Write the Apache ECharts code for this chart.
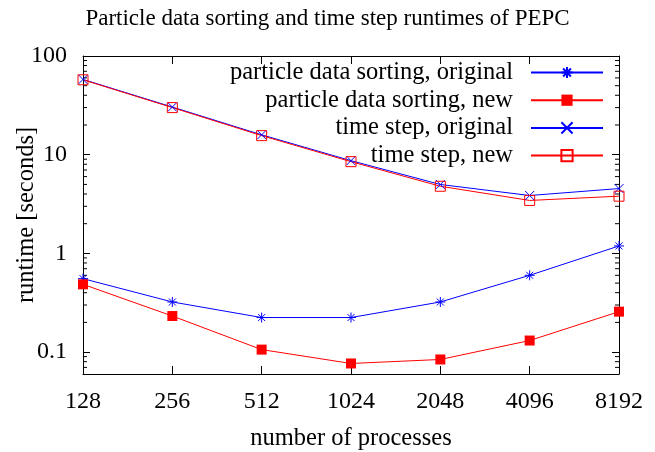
<!DOCTYPE html>
<html>
<head>
<meta charset="utf-8">
<script src="https://cdn.jsdelivr.net/npm/echarts@6/dist/echarts.min.js"></script>
<style>
  html, body { margin: 0; padding: 0; background: #fff; }
  #chart { width: 655px; height: 452px; }
</style>
</head>
<body>
<div id="chart"></div>
<script>
const procs = ['128', '256', '512', '1024', '2048', '4096', '8192']
const sortOrig = [0.555, 0.322, 0.224, 0.224, 0.322, 0.60, 1.19]
const sortNew = [0.486, 0.232, 0.106, 0.0767, 0.0842, 0.131, 0.257]
const stepOrig = [57.9, 30.4, 15.9, 8.7, 4.99, 3.86, 4.54]
const stepNew = [57.4, 30.0, 15.6, 8.5, 4.79, 3.44, 3.80]
const minorVals = [0.07, 0.08, 0.09, 0.2, 0.3, 0.4, 0.5, 0.6, 0.7, 0.8, 0.9,
  2, 3, 4, 5, 6, 7, 8, 9, 20, 30, 40, 50, 60, 70, 80, 90]

const FONT = 'Liberation Serif'
const BLUE = '#0000ff'
const RED = '#ff0000'

const asterisk = 'path://M5,0L5,10M0,5L10,5M1.5,1.5L8.5,8.5M1.5,8.5L8.5,1.5'
const cross = 'path://M0,0L10,10M0,10L10,0'
const square = 'path://M0,0L10,0L10,10L0,10Z'

const chart = echarts.init(document.getElementById('chart'))

const yAxisBase = {
  type: 'log',
  logBase: 10,
  min: 0.06,
  max: 100,
  splitNumber: 3,
  axisLine: { show: true, lineStyle: { color: '#000', width: 1 } },
  axisTick: { show: true, inside: true, length: 7, lineStyle: { color: '#000' } },
  splitLine: { show: false }
}

const option = {
  animation: false,
  title: {
    text: 'Particle data sorting and time step runtimes of PEPC',
    left: 'center',
    top: 2,
    textStyle: { fontFamily: FONT, fontSize: 23, fontWeight: 'normal', color: '#000' }
  },
  legend: {
    data: ['particle data sorting, original', 'particle data sorting, new',
      'time step, original', 'time step, new'],
    orient: 'vertical',
    align: 'right',
    right: 46,
    top: 55,
    itemWidth: 72,
    itemHeight: 14,
    itemGap: 2.7,
    textStyle: { fontFamily: FONT, fontSize: 24.5, color: '#000', padding: [0, 13, 0, 0], lineHeight: 24 }
  },
  grid: { left: 83, right: 36, top: 56, bottom: 78, outerBoundsMode: 'none' },
  xAxis: [
    {
      type: 'category',
      data: procs,
      boundaryGap: false,
      name: 'number of processes',
      nameLocation: 'middle',
      nameGap: 52,
      nameMoveOverlap: false,
      nameTextStyle: { fontFamily: FONT, fontSize: 24.5, color: '#000' },
      axisLine: { lineStyle: { color: '#000', width: 1 } },
      axisTick: { inside: true, length: 8, lineStyle: { color: '#000' } },
      axisLabel: { fontFamily: FONT, fontSize: 24, color: '#000', margin: 16 }
    },
    {
      type: 'category',
      data: procs,
      boundaryGap: false,
      position: 'top',
      axisLine: { lineStyle: { color: '#000', width: 1 } },
      axisTick: { inside: true, length: 8, lineStyle: { color: '#000' } },
      axisLabel: { show: false }
    }
  ],
  yAxis: [
    Object.assign({}, yAxisBase, {
      name: 'runtime [seconds]',
      nameLocation: 'middle',
      nameGap: 44,
      nameMoveOverlap: false,
      nameTextStyle: { fontFamily: FONT, fontSize: 24.5, color: '#000' },
      axisLabel: { fontFamily: FONT, fontSize: 24, color: '#000', margin: 16, showMinLabel: false }
    }),
    Object.assign({}, yAxisBase, {
      position: 'right',
      axisLabel: { show: false }
    })
  ],
  series: [
    {
      type: 'custom',
      silent: true,
      data: minorVals.map(v => [0, v]),
      encode: { x: 0, y: 1 },
      renderItem: (params, api) => {
        const v = api.value(1)
        const pL = api.coord([0, v])
        const pR = api.coord([procs.length - 1, v])
        return {
          type: 'group',
          children: [
            { type: 'line', shape: { x1: pL[0], y1: pL[1], x2: pL[0] + 4, y2: pL[1] }, style: { stroke: '#000', lineWidth: 1 } },
            { type: 'line', shape: { x1: pR[0] - 4, y1: pR[1], x2: pR[0], y2: pR[1] }, style: { stroke: '#000', lineWidth: 1 } }
          ]
        }
      }
    },
    {
      name: 'particle data sorting, original',
      type: 'line',
      data: sortOrig,
      symbol: asterisk,
      symbolSize: 10,
      lineStyle: { color: BLUE, width: 1 },
      itemStyle: { color: BLUE, borderColor: BLUE, borderWidth: 1 }
    },
    {
      name: 'particle data sorting, new',
      type: 'line',
      data: sortNew,
      symbol: 'rect',
      symbolSize: 10,
      lineStyle: { color: RED, width: 1 },
      itemStyle: { color: RED }
    },
    {
      name: 'time step, original',
      type: 'line',
      data: stepOrig,
      symbol: cross,
      symbolSize: 9,
      lineStyle: { color: BLUE, width: 1 },
      itemStyle: { color: BLUE, borderColor: BLUE, borderWidth: 1 }
    },
    {
      name: 'time step, new',
      type: 'line',
      data: stepNew,
      symbol: square,
      symbolSize: 10,
      lineStyle: { color: RED, width: 1 },
      itemStyle: { color: 'rgba(0,0,0,0)', borderColor: RED, borderWidth: 1 }
    }
  ]
}

chart.setOption(option)
</script>
</body>
</html>
